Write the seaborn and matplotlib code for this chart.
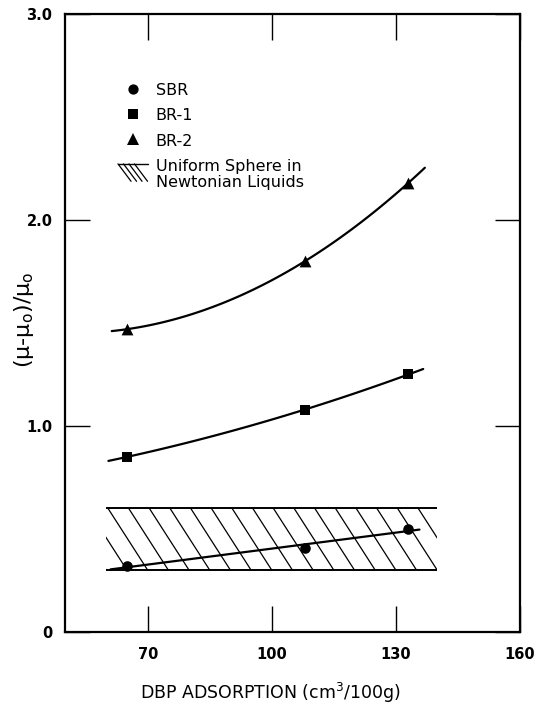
import numpy as np
import pandas as pd
import matplotlib
matplotlib.use("Agg")
import matplotlib.pyplot as plt
import seaborn as sns
from matplotlib.collections import LineCollection
from matplotlib.patches import Rectangle
from matplotlib.lines import Line2D
from matplotlib.legend_handler import HandlerLine2D, HandlerBase

# DBP absorption of the carbon blacks (cm3/100g)
dbp = [65, 108, 133]

# relative viscosity increase (mu - mu0)/mu0 for each rubber
sbr = [0.32, 0.41, 0.50]
br1 = [0.85, 1.08, 1.25]
br2 = [1.47, 1.80, 2.18]
rubbers = ["SBR", "BR-1", "BR-2"]

# band predicted for uniform spheres in Newtonian liquids
sphere_dbp = [60, 140]
sphere_ratio = [0.3, 0.6]
sphere_label = "Uniform Sphere in\nNewtonian Liquids"

x_ticks = [70, 100, 130, 160]
y_ticks = [0, 1.0, 2.0, 3.0]
y_tick_labels = ["0", "1.0", "2.0", "3.0"]

df = pd.DataFrame({
    "dbp": dbp * 3,
    "ratio": sbr + br1 + br2,
    "rubber": np.repeat(rubbers, len(dbp)),
})

# drawing style per rubber: marker, marker area, fit degree, fitted x-span
style = {
    "SBR": dict(marker="o", s=58, deg=1, span=(61.0, 135.7)),
    "BR-1": dict(marker="s", s=52, deg=2, span=(60.5, 136.6)),
    "BR-2": dict(marker="^", s=72, deg=2, span=(61.3, 137.0)),
}

sns.set_style("white")
plt.rcParams["font.family"] = ["DejaVu Sans"]
plt.rcParams["mathtext.fontset"] = "dejavusans"
for key in ("text.color", "axes.labelcolor", "xtick.color", "ytick.color"):
    plt.rcParams[key] = "black"

fig = plt.figure(figsize=(5.38, 7.05), dpi=100)
ax = fig.add_axes([65 / 538, 1 - 632 / 705, 455 / 538, 618 / 705])

for name in rubbers:
    sub = df[df["rubber"] == name]
    st = style[name]
    coef = np.polyfit(sub["dbp"], sub["ratio"], st["deg"])
    xs = np.linspace(st["span"][0], st["span"][1], 120)
    sns.lineplot(x=xs, y=np.polyval(coef, xs), color="black", lw=1.6,
                 sort=False, estimator=None, ax=ax, zorder=3)
    sns.scatterplot(data=sub, x="dbp", y="ratio", marker=st["marker"],
                    s=st["s"], color="black", linewidth=0, ax=ax, zorder=4)

# hatched band: edges plus steep diagonal hatching clipped to the band
ax.hlines(sphere_ratio, sphere_dbp[0], sphere_dbp[1], color="black", lw=1.4, zorder=2)
hatch_step = 5.0   # x-units between hatch lines
hatch_lean = 9.6   # x-shift of a hatch line across the band height
tops = np.arange(sphere_dbp[0] - hatch_lean, sphere_dbp[1] + hatch_step, hatch_step)
segs = [[(c, sphere_ratio[1]), (c + hatch_lean, sphere_ratio[0])] for c in tops]
clip = Rectangle((sphere_dbp[0], sphere_ratio[0]), sphere_dbp[1] - sphere_dbp[0],
                 sphere_ratio[1] - sphere_ratio[0], transform=ax.transData)
hatch = LineCollection(segs, colors="black", linewidths=0.9, zorder=1)
ax.add_collection(hatch)
hatch.set_clip_path(clip)

ax.set_xlim(50, 160)
ax.set_ylim(0, 3.0)
ax.set_xticks(x_ticks)
ax.set_yticks(y_ticks, y_tick_labels)
ax.tick_params(axis="x", direction="in", length=19, width=1.0, top=True, bottom=True,
               labelsize=10.5, pad=11, colors="black")
ax.tick_params(axis="y", direction="in", length=18, width=1.0, left=True, right=True,
               labelsize=10.5, pad=9, colors="black")
for lbl in ax.get_xticklabels() + ax.get_yticklabels():
    lbl.set_fontweight("bold")
for sp in ax.spines.values():
    sp.set_visible(True)
    sp.set_color("black")
    sp.set_linewidth(1.6)

ax.set_xlabel("DBP ADSORPTION (cm$^3$/100g)", fontsize=12.5, va="center")
ax.xaxis.set_label_coords((270 - 65) / 455, (632 - 693) / 618)
ax.set_ylabel("(μ-μ$_\\mathrm{o}$)/μ$_\\mathrm{o}$", fontsize=16, va="center")
ax.yaxis.set_label_coords((24 - 65) / 455, (632 - 320) / 618)


class RightMarker(HandlerLine2D):
    """Place the single legend marker toward the right of the handle box."""

    def get_xdata(self, legend, xdescent, ydescent, width, height, fontsize):
        xdata, _ = super().get_xdata(legend, xdescent, ydescent, width, height, fontsize)
        return xdata, np.array([-xdescent + 0.75 * width])


class HatchHandler(HandlerBase):
    """Small hatched swatch with a top edge and steep diagonals."""

    def create_artists(self, legend, orig_handle, xdescent, ydescent,
                       width, height, fontsize, trans):
        x0, y0 = -xdescent, -ydescent
        top = y0 + height + 3
        arts = [Line2D([x0, x0 + width], [top, top], color="black", lw=1.0, transform=trans)]
        lean = 0.75 * (top - y0)
        for xa in np.linspace(x0, x0 + width - lean, 4):
            arts.append(Line2D([xa, xa + lean], [top, y0], color="black", lw=0.9,
                               transform=trans))
        return arts


handles = [
    Line2D([], [], marker="o", ls="none", color="black", ms=7.4, mew=0),
    Line2D([], [], marker="s", ls="none", color="black", ms=7.0, mew=0),
    Line2D([], [], marker="^", ls="none", color="black", ms=8.2, mew=0),
    Rectangle((0, 0), 1, 1),
]
leg = ax.legend(handles=handles, labels=rubbers + [sphere_label],
                handler_map={Line2D: RightMarker(), Rectangle: HatchHandler()},
                frameon=False, loc="upper left",
                bbox_to_anchor=(118 / 538, 1 - 83 / 705), bbox_transform=fig.transFigure,
                borderpad=0, borderaxespad=0, handlelength=1.85, handletextpad=0.5,
                labelspacing=0.63, fontsize=11.5, handleheight=0.9)
for t in leg.get_texts():
    t.set_color("black")
    t.set_linespacing(1.1)

fig.savefig("out.png", dpi=100)
